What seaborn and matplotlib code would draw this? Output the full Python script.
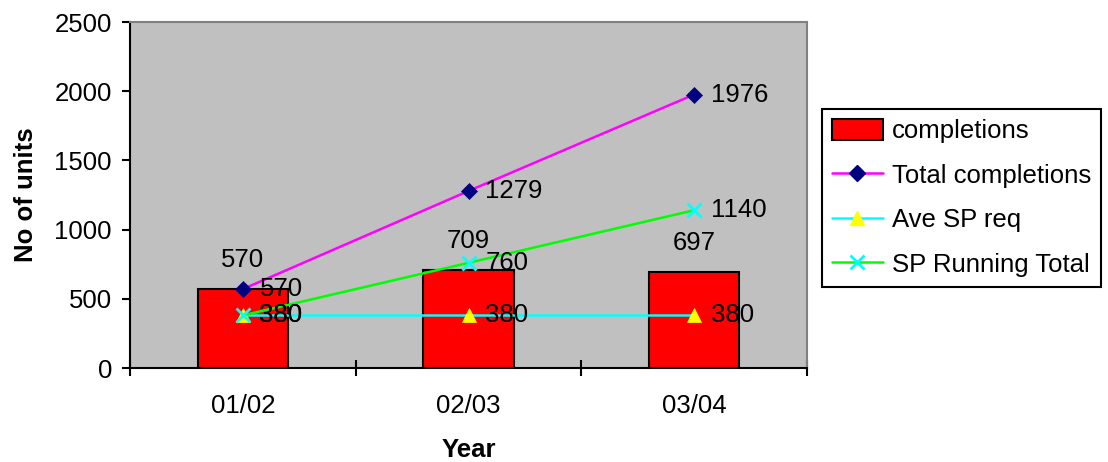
import numpy as np
import pandas as pd
import matplotlib
matplotlib.use("Agg")
import matplotlib.pyplot as plt
import seaborn as sns
from matplotlib.patches import Patch
from matplotlib.lines import Line2D

years = ["01/02", "02/03", "03/04"]
completions = [570, 709, 697]
total_completions = [570, 1279, 1976]
ave_sp_req = [380, 380, 380]
sp_running_total = [380, 760, 1140]

sns.set_theme(style="white")
plt.rcParams["font.family"] = ["Liberation Sans", "DejaVu Sans"]
plt.rcParams.update({
    "text.color": "black",
    "axes.labelcolor": "black",
    "xtick.color": "black",
    "ytick.color": "black",
})

FS = 18.5

fig = plt.figure(figsize=(11.08, 4.62), dpi=100)
ax = fig.add_axes([130 / 1108, 1 - 368 / 462, 677 / 1108, 346 / 462])
ax.set_facecolor("#C0C0C0")

df = pd.DataFrame({"Year": years, "completions": completions})
sns.barplot(data=df, x="Year", y="completions", color="#FF0000",
            edgecolor="black", linewidth=1.5, width=0.4, saturation=1,
            ax=ax, zorder=2)

xpos = np.arange(len(years))
series = [
    ("Total completions", total_completions, "#FF00FF", "D", "#000080", "#000080", 8.5),
    ("Ave SP req", ave_sp_req, "#00FFFF", "^", "#FFFF00", "#FFFF00", 10.5),
    ("SP Running Total", sp_running_total, "#00FF00", "x", "#00FFFF", "#00FFFF", 10),
]
for name, vals, lc, mk, mfc, mec, ms in series:
    sns.lineplot(x=xpos, y=vals, color=lc, linewidth=1.8, marker=mk,
                 markersize=ms, markerfacecolor=mfc, markeredgecolor=mec,
                 markeredgewidth=2 if mk == "x" else 0.5, ax=ax, zorder=4,
                 legend=False)
    for x, v in zip(xpos, vals):
        ax.annotate(str(v), (x, v), xytext=(12, 0), textcoords="offset points",
                    ha="left", va="center", fontsize=FS, color="black", zorder=6)

for x, v in zip(xpos, completions):
    ax.annotate(str(v), (x, v), xytext=(0, 12), textcoords="offset points",
                ha="center", va="bottom", fontsize=FS, color="black", zorder=6)

ax.set_xlim(-0.5, len(years) - 0.5)
ax.set_ylim(0, 2500)
ax.set_yticks(np.arange(0, 2501, 500))
ax.set_xticks(np.arange(len(years) + 1) - 0.5)
ax.set_xticklabels([])
ax.set_xticks(xpos, minor=True)
ax.set_xticklabels(years, minor=True, fontsize=FS)
ax.tick_params(axis="x", which="major", direction="inout", length=12, width=1.5,
               color="black", bottom=True)
ax.tick_params(axis="x", which="minor", length=0, pad=19, bottom=True)
ax.tick_params(axis="y", direction="out", length=6, width=1.5, color="black",
               left=True, labelsize=FS, pad=7)

for s in ["left", "bottom"]:
    ax.spines[s].set_color("black")
    ax.spines[s].set_linewidth(1.5)
for s in ["top", "right"]:
    ax.spines[s].set_color("#808080")
    ax.spines[s].set_linewidth(1.5)

ax.set_xlabel("Year", fontsize=FS, fontweight="bold", labelpad=14)
ax.set_ylabel("No of units", fontsize=FS, fontweight="bold", labelpad=12)

handles = [
    Patch(facecolor="#FF0000", edgecolor="black", linewidth=1.5),
    Line2D([], [], color="#FF00FF", linewidth=1.8, marker="D", markersize=8.5,
           markerfacecolor="#000080", markeredgecolor="#000080"),
    Line2D([], [], color="#00FFFF", linewidth=1.8, marker="^", markersize=10.5,
           markerfacecolor="#FFFF00", markeredgecolor="#FFFF00"),
    Line2D([], [], color="#00FF00", linewidth=1.8, marker="x", markersize=10,
           markeredgewidth=2, markeredgecolor="#00FFFF"),
]
labels = ["completions", "Total completions", "Ave SP req", "SP Running Total"]
leg = fig.legend(handles, labels, loc="upper left",
                 bbox_to_anchor=(822 / 1108, 1 - 109 / 462),
                 fontsize=FS, frameon=True, fancybox=False, framealpha=1,
                 edgecolor="black", facecolor="white", handlelength=2.0,
                 handleheight=0.9, handletextpad=0.35, borderpad=0.38,
                 labelspacing=0.78, borderaxespad=0, numpoints=1)
leg.get_frame().set_linewidth(1.5)

fig.savefig("out.png", dpi=100)
